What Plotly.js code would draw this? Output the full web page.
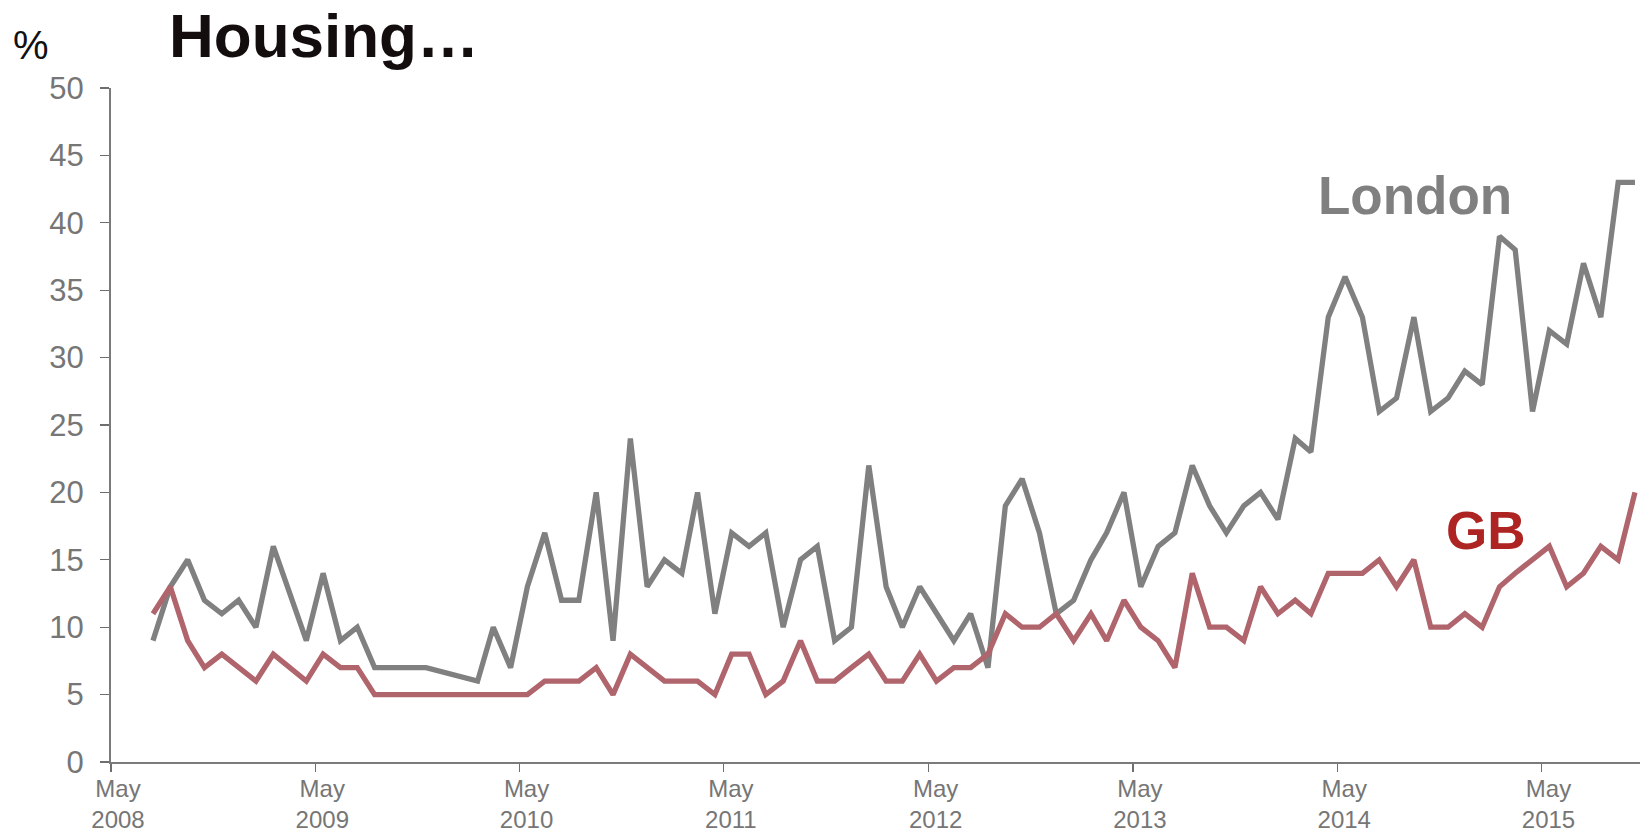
<!DOCTYPE html>
<html>
<head>
<meta charset="utf-8">
<script src="https://cdn.plot.ly/plotly-3.0.1.min.js"></script>
<style>html,body{margin:0;padding:0;background:#fff;}#chart{width:1643px;height:836px;}</style>
</head>
<body>
<div id="chart"></div>
<script>
// Survey months (mid-month), Jul 2008 - Oct 2015
const months = [
  '2008-07-15','2008-08-15','2008-09-15','2008-10-15','2008-11-15','2008-12-15',
  '2009-01-15','2009-02-15','2009-03-15','2009-04-15','2009-05-15','2009-06-15','2009-07-15','2009-08-15','2009-09-15','2009-10-15','2009-11-15','2009-12-15',
  '2010-01-15','2010-02-15','2010-03-15','2010-04-15','2010-05-15','2010-06-15','2010-07-15','2010-08-15','2010-09-15','2010-10-15','2010-11-15','2010-12-15',
  '2011-01-15','2011-02-15','2011-03-15','2011-04-15','2011-05-15','2011-06-15','2011-07-15','2011-08-15','2011-09-15','2011-10-15','2011-11-15','2011-12-15',
  '2012-01-15','2012-02-15','2012-03-15','2012-04-15','2012-05-15','2012-06-15','2012-07-15','2012-08-15','2012-09-15','2012-10-15','2012-11-15','2012-12-15',
  '2013-01-15','2013-02-15','2013-03-15','2013-04-15','2013-05-15','2013-06-15','2013-07-15','2013-08-15','2013-09-15','2013-10-15','2013-11-15','2013-12-15',
  '2014-01-15','2014-02-15','2014-03-15','2014-04-15','2014-05-15','2014-06-15','2014-07-15','2014-08-15','2014-09-15','2014-10-15','2014-11-15','2014-12-15',
  '2015-01-15','2015-02-15','2015-03-15','2015-04-15','2015-05-15','2015-06-15','2015-07-15','2015-08-15','2015-09-15','2015-10-15'
];

const london = [
  9, 13, 15, 12, 11, 12,
  10, 16, null, 9, 14, 9, 10, 7, 7, 7, 7, null,
  null, 6, 10, 7, 13, 17, 12, 12, 20, 9, 24, 13,
  15, 14, 20, 11, 17, 16, 17, 10, 15, 16, 9, 10,
  22, 13, 10, 13, 11, 9, 11, 7, 19, 21, 17, 11,
  12, 15, 17, 20, 13, 16, 17, 22, 19, 17, 19, 20,
  18, 24, 23, 33, 36, 33, 26, 27, 33, 26, 27, 29,
  28, 39, 38, 26, 32, 31, 37, 33, 43, 43
];

const gb = [
  11, 13, 9, 7, 8, 7,
  6, 8, null, 6, 8, 7, 7, 5, 5, 5, 5, null,
  null, 5, 5, 5, 5, 6, 6, 6, 7, 5, 8, 7,
  6, 6, 6, 5, 8, 8, 5, 6, 9, 6, 6, 7,
  8, 6, 6, 8, 6, 7, 7, 8, 11, 10, 10, 11,
  9, 11, 9, 12, 10, 9, 7, 14, 10, 10, 9, 13,
  11, 12, 11, 14, 14, 14, 15, 13, 15, 10, 10, 11,
  10, 13, 14, 15, 16, 13, 14, 16, 15, 20
];

const tickDates = ['2008-05-01','2009-05-01','2010-05-01','2011-05-01','2012-05-01','2013-05-01','2014-05-01','2015-05-01'];
const tickLabels = ['May<br>2008','May<br>2009','May<br>2010','May<br>2011','May<br>2012','May<br>2013','May<br>2014','May<br>2015'];
const yTicks = [0,5,10,15,20,25,30,35,40,45,50];

const traces = [
  {x: months, y: london, type: 'scatter', mode: 'lines', name: 'London', connectgaps: true,
   line: {color: '#808080', width: 5.3, shape: 'linear'}},
  {x: months, y: gb, type: 'scatter', mode: 'lines', name: 'GB', connectgaps: true,
   line: {color: '#B0646C', width: 5.3, shape: 'linear'}}
];

const tickFont = {family: '"Liberation Sans", Arial, sans-serif', color: '#767676'};

const layout = {
  width: 1643, height: 836,
  paper_bgcolor: '#ffffff', plot_bgcolor: '#ffffff',
  showlegend: false,
  margin: {l: 111, r: 3, t: 88, b: 74, pad: 0},
  title: {
    text: '<b>Housing…</b>',
    font: {family: '"Liberation Sans", Arial, sans-serif', size: 62, color: '#140d0d'},
    xref: 'container', x: 169/1643, xanchor: 'left',
    yref: 'container', y: 1.0, yanchor: 'top', pad: {t: 14}
  },
  xaxis: {
    type: 'date',
    range: ['2008-05-01', '2015-10-24'],
    tickmode: 'array', tickvals: tickDates, ticktext: tickLabels,
    ticks: 'outside', ticklen: 8, tickwidth: 1.3, tickcolor: '#6e6e6e',
    showline: true, linecolor: '#7a7a7a', linewidth: 2,
    showgrid: false, zeroline: false,
    tickfont: Object.assign({size: 24}, tickFont),
    ticklabelshift: 7, ticklabelstandoff: -4
  },
  yaxis: {
    range: [0, 50],
    tickmode: 'array', tickvals: yTicks,
    ticks: 'outside', ticklen: 9, tickwidth: 1.3, tickcolor: '#6e6e6e',
    showline: true, linecolor: '#7a7a7a', linewidth: 2,
    showgrid: false, zeroline: false,
    tickfont: Object.assign({size: 31}, tickFont),
    ticklabelstandoff: 10
  },
  annotations: [
    {text: '%', xref: 'paper', yref: 'paper', x: (11-111)/1529, y: 1 + (88-45.5)/674,
     xanchor: 'left', yanchor: 'middle', showarrow: false,
     font: {family: '"Liberation Sans", Arial, sans-serif', size: 40, color: '#111111'}},
    {text: '<b>London</b>', xref: 'paper', yref: 'paper', x: (1415-111)/1529, y: (762-195)/674,
     xanchor: 'center', yanchor: 'middle', showarrow: false,
     font: {family: '"Liberation Sans", Arial, sans-serif', size: 53, color: '#808080'}},
    {text: '<b>GB</b>', xref: 'paper', yref: 'paper', x: (1486-111)/1529, y: (762-530)/674,
     xanchor: 'center', yanchor: 'middle', showarrow: false,
     font: {family: '"Liberation Sans", Arial, sans-serif', size: 53, color: '#AD2422'}}
  ]
};

Plotly.newPlot('chart', traces, layout, {displayModeBar: false, staticPlot: true});
</script>
</body>
</html>
